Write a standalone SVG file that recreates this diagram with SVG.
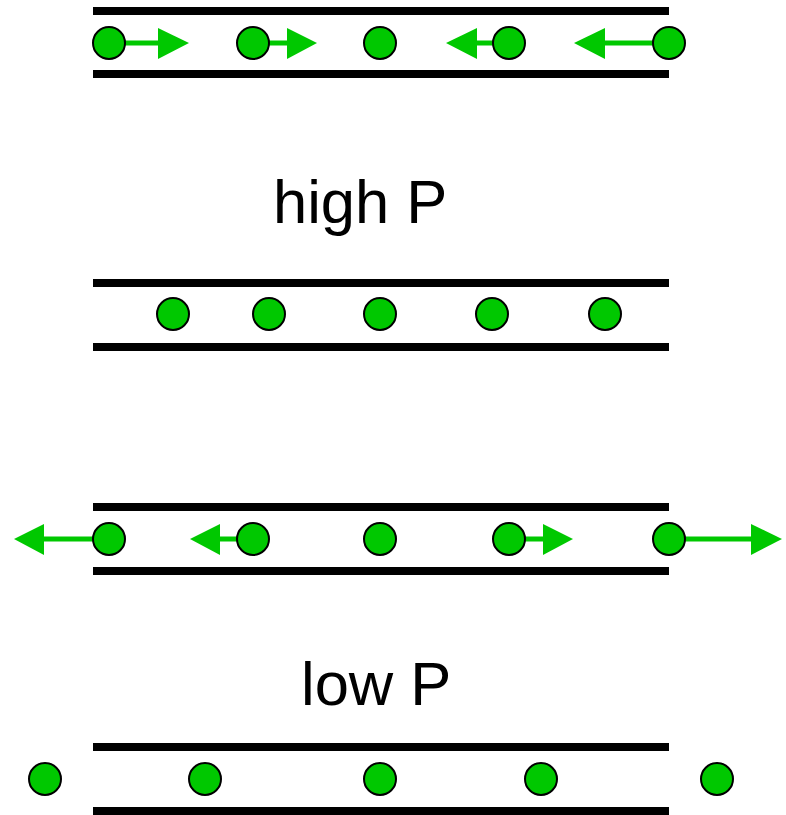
<svg xmlns="http://www.w3.org/2000/svg" width="786" height="815" viewBox="0 0 786 815">
<style>
.wall{stroke:#000;stroke-width:8;fill:none}
.p{fill:#00c800;stroke:#000;stroke-width:2}
.v{stroke:#00c800;stroke-width:5;fill:none}
.h{fill:#00c800;stroke:none}
.lbl{font-family:"Liberation Sans",Arial,sans-serif;font-size:61.5px;fill:#000}
</style>
<rect width="786" height="815" fill="#fff"/>
<g id="walls">
<line class="wall" x1="93" y1="11" x2="669" y2="11"/>
<line class="wall" x1="93" y1="74" x2="669" y2="74"/>
<line class="wall" x1="93" y1="283" x2="669" y2="283"/>
<line class="wall" x1="93" y1="347" x2="669" y2="347"/>
<line class="wall" x1="93" y1="507" x2="669" y2="507"/>
<line class="wall" x1="93" y1="571" x2="669" y2="571"/>
<line class="wall" x1="93" y1="747" x2="669" y2="747"/>
<line class="wall" x1="93" y1="811" x2="669" y2="811"/>
</g>
<g id="connectors">
<line class="v" x1="109" y1="43" x2="160" y2="43"/><polygon class="h" points="158,28 189,43 158,59"/>
<line class="v" x1="253" y1="43" x2="289" y2="43"/><polygon class="h" points="287,28 317,43 287,59"/>
<line class="v" x1="509" y1="43" x2="475" y2="43"/><polygon class="h" points="477,28 446,43 477,59"/>
<line class="v" x1="669" y1="43" x2="603" y2="43"/><polygon class="h" points="605,28 574,43 605,59"/>
<line class="v" x1="109" y1="539" x2="42" y2="539"/><polygon class="h" points="44,524 14,539 44,555"/>
<line class="v" x1="253" y1="539" x2="218" y2="539"/><polygon class="h" points="220,524 190,539 220,555"/>
<line class="v" x1="509" y1="539" x2="545" y2="539"/><polygon class="h" points="543,524 573,539 543,555"/>
<line class="v" x1="669" y1="539" x2="753" y2="539"/><polygon class="h" points="751,524 782,539 751,555"/>
</g>
<g id="row1">
<circle class="p" cx="109" cy="43" r="16"/>
<circle class="p" cx="253" cy="43" r="16"/>
<circle class="p" cx="380" cy="43" r="16"/>
<circle class="p" cx="509" cy="43" r="16"/>
<circle class="p" cx="669" cy="43" r="16"/>
</g>
<g id="row2">
<circle class="p" cx="173" cy="314" r="16"/>
<circle class="p" cx="269" cy="314" r="16"/>
<circle class="p" cx="380" cy="314" r="16"/>
<circle class="p" cx="492" cy="314" r="16"/>
<circle class="p" cx="605" cy="314" r="16"/>
</g>
<g id="row3">
<circle class="p" cx="109" cy="539" r="16"/>
<circle class="p" cx="253" cy="539" r="16"/>
<circle class="p" cx="380" cy="539" r="16"/>
<circle class="p" cx="509" cy="539" r="16"/>
<circle class="p" cx="669" cy="539" r="16"/>
</g>
<g id="row4">
<circle class="p" cx="45" cy="779" r="16"/>
<circle class="p" cx="205" cy="779" r="16"/>
<circle class="p" cx="380" cy="779" r="16"/>
<circle class="p" cx="541" cy="779" r="16"/>
<circle class="p" cx="717" cy="779" r="16"/>
</g>
<g id="label-high"><text class="lbl" x="273" y="223">high P</text></g>
<g id="label-low"><text class="lbl" x="301" y="705">low P</text></g>
</svg>
